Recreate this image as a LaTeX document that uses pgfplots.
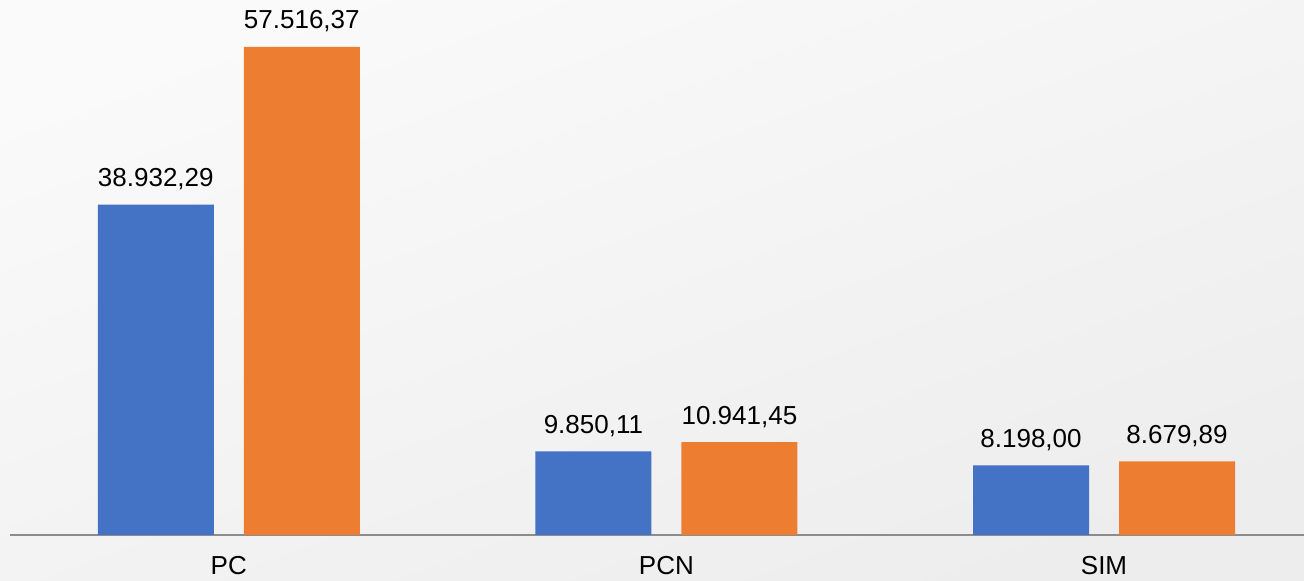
\documentclass[border=0pt]{standalone}
\usepackage{fontspec}
\setmainfont{Liberation Sans}
\usepackage{pgfplots}
\pgfplotsset{compat=1.18}
\definecolor{barblue}{HTML}{4472C4}
\definecolor{barorange}{HTML}{ED7D31}
\definecolor{axisgray}{HTML}{8C8C8C}
\begin{document}
\begin{tikzpicture}
\shade[top color=white!98!black, bottom color=white!93!black, shading angle=20] (0,0) rectangle (652pt,290.5pt);
\begin{axis}[
  at={(5pt,23pt)}, anchor=south west,
  scale only axis, width=647pt, height=267.5pt,
  ybar=15pt, bar width=58pt,
  xmin=-0.5, xmax=2.457, ymin=0, ymax=63055,
  axis y line=none,
  axis x line*=bottom,
  x axis line style={axisgray, line width=0.8pt},
  xtick={0,1,2}, xticklabels={PC,PCN,SIM},
  major tick length=0pt,
  xticklabel style={anchor=base, yshift=-20pt, font=\fontsize{13}{15}\selectfont},
  nodes near coords,
  nodes near coords style={anchor=base, yshift=9pt, inner sep=0pt, black, font=\fontsize{13}{15}\selectfont,
    /pgf/number format/.cd, assume math mode=true, fixed, fixed zerofill, precision=2, use comma, 1000 sep={.}},
  clip=false,
]
\addplot[fill=barblue, draw=none] coordinates {(0,38932.29) (1,9850.11) (2,8198.00)};
\addplot[fill=barorange, draw=none] coordinates {(0,57516.37) (1,10941.45) (2,8679.89)};
\end{axis}
\pgfresetboundingbox
\path (0,0) rectangle (652pt,290.5pt);
\end{tikzpicture}
\end{document}
